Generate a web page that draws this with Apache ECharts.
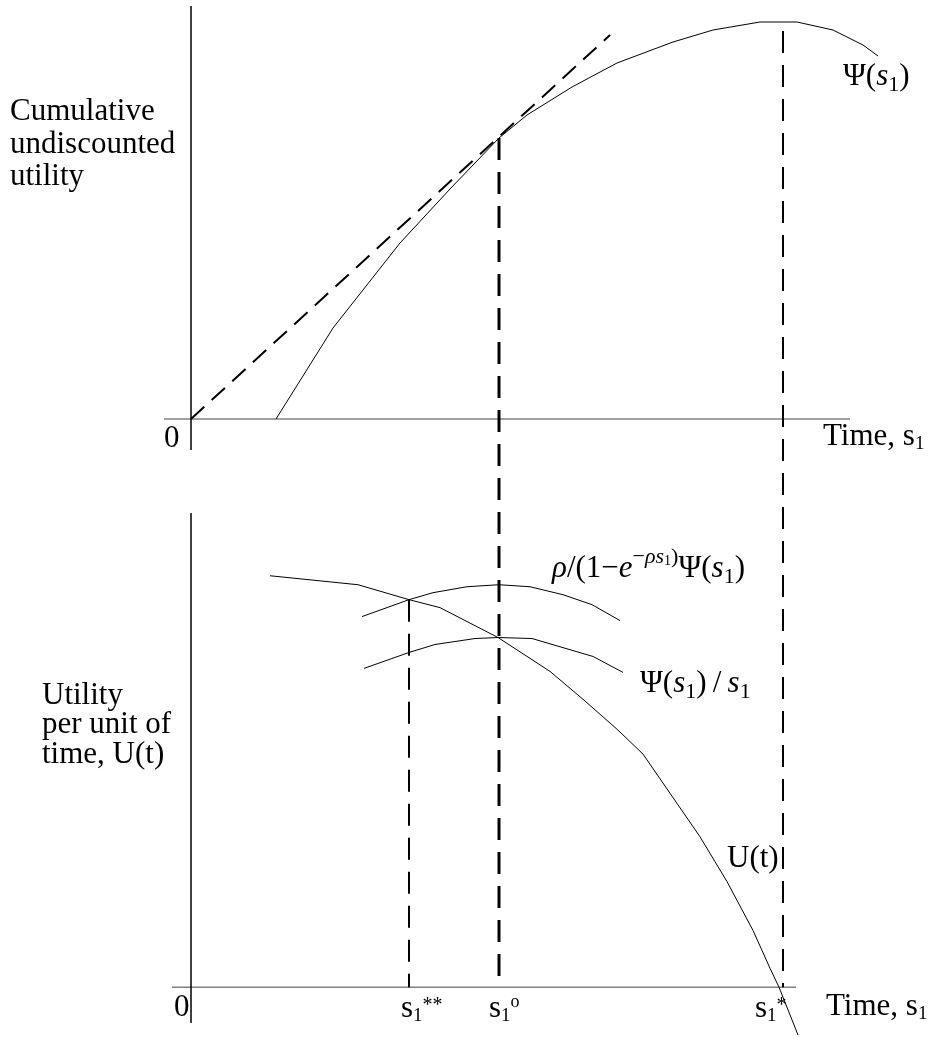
<!DOCTYPE html>
<html>
<head>
<meta charset="utf-8">
<script src="https://cdn.jsdelivr.net/npm/echarts@6/dist/echarts.min.js"></script>
<style>
  html, body { margin: 0; padding: 0; background: #fff; }
  #chart { width: 932px; height: 1038px; }
</style>
</head>
<body>
<div id="chart"></div>
<script>
// time runs along x (s1)
// top panel: cumulative undiscounted utility Psi(s1)
const psiCurve = [[8.5, 0], [14.2, 9.1], [20.9, 17.6], [25.9, 23.0], [30.8, 28.1], [33.6, 30.4], [38.1, 33.2],
  [42.6, 35.6], [48.2, 37.7], [52.2, 38.9], [56.9, 39.7], [60.6, 39.7], [64.2, 38.9], [67.2, 37.4], [68.7, 36.3]]
const tangentLine = [[0, 0], [41.9, 38.4]]
// drawn extent of the axis lines in the top panel
const topAxisX = [-2.7, 65.9]
const topAxisY = [-3.1, 41.3]

// bottom panel: utility per unit of time
const uCurve = [[7.9, 41.3], [16.7, 40.4], [21.8, 38.9], [24.9, 38.1], [30.7, 35.1], [35.9, 31.7], [39.2, 28.9],
  [42.6, 25.9], [45.2, 23.4], [50.9, 15.1], [53.6, 10.6], [56.2, 5.7], [57.9, 1.9], [58.8, 0], [60.7, -4.8]]
const rhoCurve = [[17.1, 37.2], [21.8, 38.9], [24.2, 39.6], [27.6, 40.2], [30.8, 40.4], [33.9, 40.2], [37.2, 39.4],
  [40.1, 38.4], [42.9, 36.8]]
const avgCurve = [[17.3, 32.0], [21.8, 33.6], [24.4, 34.4], [28.4, 35.0], [30.7, 35.1], [34.1, 35.0], [40.2, 33.2],
  [43.2, 31.6]]
const botAxisX = [-1.9, 60.5]
const botAxisY = [-3.6, 47.6]

// s1**, s1o, s1* and where each drop line starts (panel 0 = top, 1 = bottom)
const dropX = [21.8, 30.8, 59.2]
const dropTopPanel = [1, 0, 0]
const dropTopY = [38.9, 28.1, 38.8]
const dropLabels = ['s{tsub|1}{star|**}', 's{tsub|1}{ring|o}', 's{tsub|1}{star|*}']

const FF = '"Liberation Serif", "Times New Roman", serif'
const FS = 31
const rich = {
  i: { fontFamily: FF, fontSize: FS, fontStyle: 'italic', lineHeight: 36 },
  sub: { fontFamily: FF, fontSize: 22, lineHeight: 36, padding: [16, 0, 0, 0] },
  tsub: { fontFamily: FF, fontSize: 19, lineHeight: 36, padding: [14, 0, 0, 0] },
  star: { fontFamily: FF, fontSize: 20, lineHeight: 36, padding: [0, 0, 6, 0] },
  ring: { fontFamily: FF, fontSize: 18, lineHeight: 36, padding: [0, 0, 14, 0] },
  sup: { fontFamily: FF, fontSize: 22, lineHeight: 36, padding: [0, 0, 24, 0] },
  supi: { fontFamily: FF, fontSize: 22, fontStyle: 'italic', lineHeight: 36, padding: [0, 0, 24, 0] },
  supsub: { fontFamily: FF, fontSize: 14, lineHeight: 36, padding: [0, 0, 16, 0] },
}

function label(x, y, text, extra) {
  return {
    type: 'text', x: x, y: y, silent: true, z: 10,
    style: Object.assign({
      text: text, fontFamily: FF, fontSize: FS, fill: '#000',
      lineHeight: 36, align: 'left', verticalAlign: 'middle', rich: rich,
    }, extra || {}),
  }
}

const lineBase = {
  type: 'line', showSymbol: false, symbol: 'none', clip: false, silent: true,
  lineStyle: { color: '#000', width: 1 },
}
const hAxisStyle = { color: '#808080', width: 1.5 }
const vAxisStyle = { color: '#000', width: 1.5 }
const bare = { axisLine: { show: false }, axisTick: { show: false }, axisLabel: { show: false }, splitLine: { show: false } }

function axisSeries(grid, xs, ys) {
  return [
    Object.assign({}, lineBase, { xAxisIndex: grid, yAxisIndex: grid, data: [[xs[0], 0], [xs[1], 0]],
      lineStyle: hAxisStyle }),
    Object.assign({}, lineBase, { xAxisIndex: grid, yAxisIndex: grid, data: [[0, ys[0]], [0, ys[1]]],
      lineStyle: vAxisStyle }),
  ]
}

const option = {
  backgroundColor: '#fff',
  animation: false,
  grid: [
    { left: 164, top: 6, width: 726, height: 444 },
    { left: 172, top: 513, width: 638, height: 527 },
  ],
  xAxis: [
    Object.assign({ type: 'value', gridIndex: 0, min: -2.7, max: 69.9 }, bare),
    Object.assign({ type: 'value', gridIndex: 1, min: -1.9, max: 61.9 }, bare),
  ],
  yAxis: [
    Object.assign({ type: 'value', gridIndex: 0, min: -3.1, max: 41.3 }, bare),
    Object.assign({ type: 'value', gridIndex: 1, min: -5.1, max: 47.6 }, bare),
  ],
  series: [].concat(
    axisSeries(0, topAxisX, topAxisY),
    axisSeries(1, botAxisX, botAxisY),
    [
      Object.assign({}, lineBase, { xAxisIndex: 0, yAxisIndex: 0, data: psiCurve }),
      Object.assign({}, lineBase, { xAxisIndex: 0, yAxisIndex: 0, data: tangentLine,
        lineStyle: { color: '#000', width: 2, type: [18, 10] } }),
      Object.assign({}, lineBase, { xAxisIndex: 1, yAxisIndex: 1, data: uCurve }),
      Object.assign({}, lineBase, { xAxisIndex: 1, yAxisIndex: 1, data: rhoCurve }),
      Object.assign({}, lineBase, { xAxisIndex: 1, yAxisIndex: 1, data: avgCurve }),
    ]
  ),
}

const chart = echarts.init(document.getElementById('chart'))
chart.setOption(option)

// drop lines run from the curves down to the lower time axis, across both panels
const graphics = []
const labelOffset = [-8, -10, -28]
dropX.forEach(function (x, i) {
  const bottom = chart.convertToPixel({ gridIndex: 1 }, [x, 0])
  const top = chart.convertToPixel({ gridIndex: dropTopPanel[i] }, [x, dropTopY[i]])
  graphics.push({
    type: 'line', silent: true, z: 5,
    shape: { x1: bottom[0], y1: top[1], x2: bottom[0], y2: bottom[1] },
    style: { stroke: '#000', lineWidth: i === 1 ? 3 : 2, lineDash: [22, 12] },
  })
  graphics.push(label(bottom[0] + labelOffset[i], bottom[1] + 22, dropLabels[i]))
})

graphics.push(
  label(10, 96, 'Cumulative\nundiscounted\nutility', { verticalAlign: 'top', lineHeight: 32.5 }),
  label(42, 681, 'Utility\nper unit of\ntime, U(t)', { verticalAlign: 'top', lineHeight: 29.5 }),
  label(843, 77, 'Ψ({i|s}{sub|1})'),
  label(552, 569, '{i|ρ}/(1−{i|e}{sup|−}{supi|ρs}{supsub|1}{sup|)}Ψ({i|s}{sub|1})'),
  label(640, 684, 'Ψ({i|s}{sub|1})\u2009/\u2009{i|s}{sub|1}'),
  label(727, 859, 'U(t)'),
  label(823, 437, 'Time, s{tsub|1}'),
  label(826, 1007, 'Time, s{tsub|1}'),
  label(164, 439, '0'),
  label(174, 1008, '0')
)

chart.setOption({ graphic: graphics })
</script>
</body>
</html>
